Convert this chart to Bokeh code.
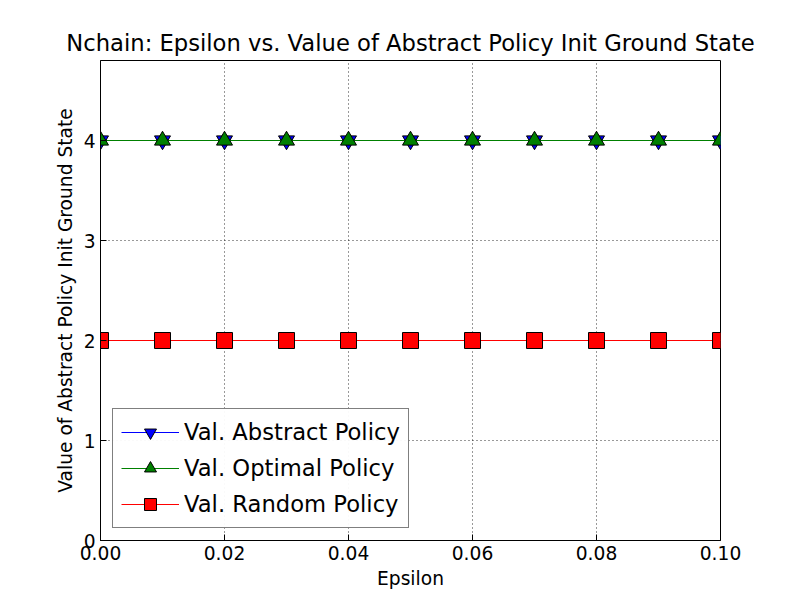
from bokeh.plotting import figure
from bokeh.models import FixedTicker, Range1d, Legend, LegendItem, CustomJSTickFormatter
from bokeh.embed import file_html
from bokeh.resources import INLINE

epsilon = [0.0, 0.01, 0.02, 0.03, 0.04, 0.05, 0.06, 0.07, 0.08, 0.09, 0.1]
val_abstract = [4, 4, 4, 4, 4, 4, 4, 4, 4, 4, 4]
val_optimal = [4, 4, 4, 4, 4, 4, 4, 4, 4, 4, 4]
val_random = [2, 2, 2, 2, 2, 2, 2, 2, 2, 2, 2]
x_ticks = [0.0, 0.02, 0.04, 0.06, 0.08, 0.1]
y_ticks = [0, 1, 2, 3, 4]

FONT = "DejaVu Sans"

p = figure(width=792, height=592, output_backend="svg", toolbar_location=None,
           x_range=Range1d(0, 0.1), y_range=Range1d(0, 4.8),
           min_border_left=100, min_border_right=72, min_border_top=60, min_border_bottom=52)

p.title.text = "Nchain: Epsilon vs. Value of Abstract Policy Init Ground State"
p.title.align = "center"
p.title.text_font = FONT
p.title.text_font_size = "17pt"
p.title.text_font_style = "normal"
p.title.text_color = "black"

series = [
    (val_abstract, "blue", "inverted_triangle", "Val. Abstract Policy"),
    (val_optimal, "green", "triangle", "Val. Optimal Policy"),
    (val_random, "red", "square", "Val. Random Policy"),
]
items = []
for ys, col, mk, lab in series:
    l = p.line(epsilon, ys, line_color=col, line_width=1)
    s = p.scatter(epsilon, ys, marker=mk, size=16, fill_color=col, line_color="black")
    items.append(LegendItem(label=lab, renderers=[l, s]))

legend = Legend(items=items, location="bottom_left")
legend.label_text_font = FONT
legend.label_text_font_size = "17pt"
legend.label_text_color = "black"
legend.border_line_color = "black"
legend.border_line_width = 1
legend.glyph_width = 58
legend.glyph_height = 30
legend.label_height = 30
legend.spacing = 6
legend.padding = 8
legend.margin = 12
p.add_layout(legend)

p.xaxis.ticker = FixedTicker(ticks=x_ticks)
p.yaxis.ticker = FixedTicker(ticks=y_ticks)
p.xaxis.formatter = CustomJSTickFormatter(code="return tick.toFixed(2);")
p.xaxis.axis_label = "Epsilon"
p.yaxis.axis_label = "Value of Abstract Policy Init Ground State"
for ax in (p.xaxis, p.yaxis):
    ax.axis_label_text_font = FONT
    ax.axis_label_text_font_size = "14pt"
    ax.axis_label_text_font_style = "normal"
    ax.axis_label_text_color = "black"
    ax.major_label_text_font = FONT
    ax.major_label_text_font_size = "14pt"
    ax.major_label_text_color = "black"
    ax.major_tick_in = 6
    ax.major_tick_out = 0
    ax.minor_tick_line_color = None
    ax.axis_line_color = "black"

p.grid.grid_line_color = "black"
p.grid.grid_line_dash = "1 3"
p.grid.grid_line_alpha = 0.8
p.outline_line_color = "black"
p.outline_line_width = 1

open("out.html", "w").write(file_html(p, INLINE))
